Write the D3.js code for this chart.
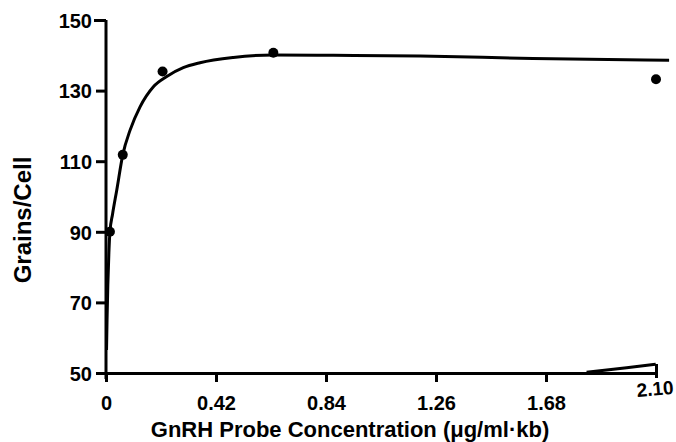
<!DOCTYPE html>
<html>
<head>
<meta charset="utf-8">
<script src="https://cdn.jsdelivr.net/npm/d3@7"></script>
<style>
  body { margin: 0; background: #fff; }
  text { font-family: "Liberation Sans", Arial, sans-serif; font-weight: bold; fill: #000; }
</style>
</head>
<body>
<svg width="676" height="442"></svg>
<script>
const xTicks = [0, 0.42, 0.84, 1.26, 1.68, 2.10];
const yTicks = [50, 70, 90, 110, 130, 150];

// measured points
const obsConc = [0.015, 0.064, 0.216, 0.639, 2.10];
const obsGrains = [90, 111.8, 135.4, 140.7, 133.2];

// fitted curve
const fitConc = [0.002, 0.004, 0.007, 0.011, 0.015, 0.025, 0.041, 0.064, 0.092, 0.130, 0.181, 0.232, 0.295, 0.359, 0.486, 0.639, 0.868, 1.199, 1.63, 2.15];
const fitGrains = [56.5, 65, 75, 84, 90, 95, 101.8, 111.8, 118.8, 125.4, 131.1, 134.0, 136.5, 137.9, 139.4, 140.1, 140.0, 139.8, 139.1, 138.6];

// lower branch of the fit near the right end
const lowConc = [1.835, 1.886, 1.988, 2.099];
const lowGrains = [50.2, 50.65, 51.5, 52.5];

const svg = d3.select('svg');

const x = d3.scaleLinear().domain([0, 2.10]).range([106, 656]);
const y = d3.scaleLinear().domain([50, 150]).range([373, 20]);

// y axis
const yAxis = svg.append('g')
  .attr('transform', 'translate(106,0)')
  .call(d3.axisLeft(y).tickValues(yTicks).tickSize(10).tickPadding(4).tickSizeOuter(0));
yAxis.select('.domain').attr('stroke', '#000').attr('stroke-width', 3)
  .attr('d', 'M0,' + y(150) + 'V' + (y(50) + 6));
yAxis.selectAll('.tick line').attr('stroke', '#000').attr('stroke-width', 3);
yAxis.selectAll('.tick text').style('font-size', '20px').attr('dy', '0.36em');
yAxis.select('.tick:last-of-type line').attr('x2', -12);

// x axis
const xAxis = svg.append('g')
  .attr('transform', 'translate(0,373)')
  .call(d3.axisBottom(x).tickValues(xTicks).tickFormat((d, i) => i === 0 ? '0' : d3.format('.2f')(d)).tickSize(9).tickPadding(14).tickSizeOuter(0));
xAxis.select('.domain').attr('stroke', '#000').attr('stroke-width', 3);
xAxis.selectAll('.tick line').attr('stroke', '#000').attr('stroke-width', 3);
xAxis.selectAll('.tick text').style('font-size', '20px').attr('dy', '0.71em');
const lastTick = xAxis.selectAll('.tick').filter(d => d === 2.10);
lastTick.select('line').attr('y1', -9).attr('y2', 5);
lastTick.select('text')
  .style('font-size', '19px')
  .attr('transform', 'translate(-4,-14) rotate(-5)');

const line = d3.line()
  .x((d, i) => x(d[0]))
  .y(d => y(d[1]))
  .curve(d3.curveMonotoneX);

svg.append('path')
  .datum(fitConc.map((c, i) => [c, fitGrains[i]]))
  .attr('fill', 'none')
  .attr('stroke', '#000')
  .attr('stroke-width', 3)
  .attr('d', line);

svg.append('path')
  .datum(lowConc.map((c, i) => [c, lowGrains[i]]))
  .attr('fill', 'none')
  .attr('stroke', '#000')
  .attr('stroke-width', 3)
  .attr('d', line);

svg.selectAll('circle.obs')
  .data(obsConc.map((c, i) => [c, obsGrains[i]]))
  .join('circle')
  .attr('class', 'obs')
  .attr('cx', d => x(d[0]))
  .attr('cy', d => y(d[1]))
  .attr('r', 5)
  .attr('fill', '#000');

// titles
svg.append('text')
  .attr('x', 350)
  .attr('y', 437)
  .attr('text-anchor', 'middle')
  .style('font-size', '22px')
  .text('GnRH Probe Concentration (\u03bcg/ml\u00b7kb)');

svg.append('text')
  .attr('transform', 'translate(31,220) rotate(-90)')
  .attr('text-anchor', 'middle')
  .style('font-size', '24px')
  .text('Grains/Cell');
</script>
</body>
</html>
